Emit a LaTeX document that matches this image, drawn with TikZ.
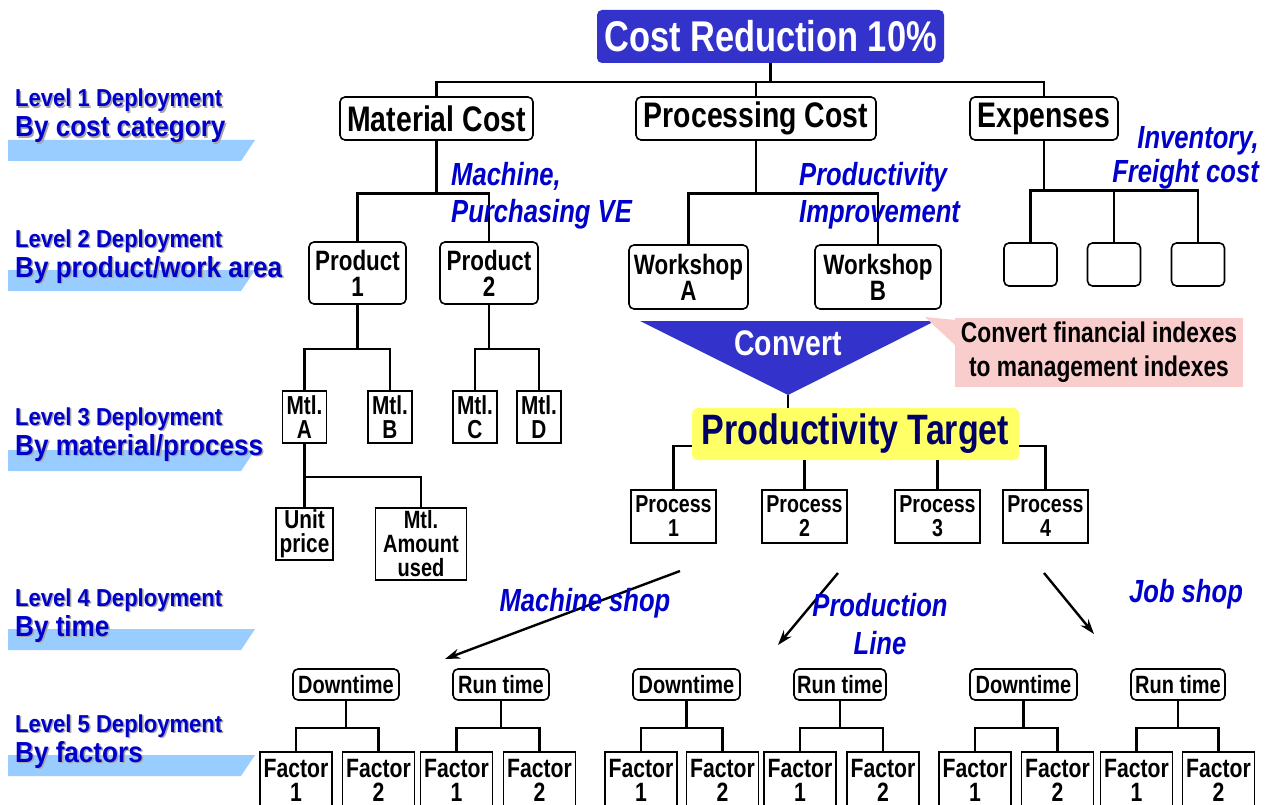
\documentclass[tikz,border=0pt]{standalone}
\usepackage{fontspec}
\setmainfont{Liberation Sans}
\newfontfamily\nf[FakeStretch=0.8]{Liberation Sans}
\newfontfamily\lf[FakeStretch=0.9]{Liberation Sans}
\usetikzlibrary{arrows.meta}
\definecolor{tblue}{RGB}{51,51,204}
\definecolor{lblue}{RGB}{0,0,204}
\definecolor{bandc}{RGB}{153,204,255}
\definecolor{pinkc}{RGB}{250,205,205}
\definecolor{ylw}{RGB}{255,255,102}
\definecolor{navyc}{RGB}{0,0,102}
\newcommand\fs[2]{\fontsize{#1}{#2}\selectfont}
\newcommand\lvlabel[5]{%
  \fill[bandc] (8,#4) -- (255,#4) -- (241,#4+21) -- (8,#4+21) -- cycle;
  \node[lvshadow, font=\lf\bfseries\fs{24.5}{25}] at (16.5,#2+1.5) {Level #1 Deployment};
  \node[lvtext, font=\lf\bfseries\fs{24.5}{25}] (lv#1a) at (15,#2) {Level #1 Deployment};
  \node[lvshadow, font=\lf\bfseries\fs{29}{29}] at (16.5,#3+1.5) {#5};
  \node[lvtext, font=\lf\bfseries\fs{29}{29}] (lv#1b) at (15,#3) {#5};
}
\begin{document}
\begin{tikzpicture}[x=1pt,y=-1pt,
  lvtext/.style={anchor=base west, inner sep=0pt, text=lblue},
  lvshadow/.style={anchor=base west, inner sep=0pt, text=black!35},
  rbox/.style={draw, line width=1.6pt, rounded corners=5pt, fill=white, inner sep=0pt, align=center},
  sbox/.style={draw, line width=1.6pt, fill=white, inner sep=0pt, align=center},
  titlebox/.style={fill=tblue, text=white, rounded corners=5pt, inner sep=0pt,
     minimum width=347pt, minimum height=53pt, font=\nf\bfseries\fs{43}{43}},
  l1box/.style={rbox, minimum height=43pt, font=\nf\bfseries\fs{35.5}{35}},
  l2box/.style={rbox, font=\nf\bfseries\fs{28}{26}},
  mbox/.style={sbox, minimum width=44pt, minimum height=52pt, font=\nf\bfseries\fs{26}{24}},
  ebox/.style={rbox, minimum width=53pt, minimum height=43pt},
  ptbox/.style={fill=ylw, text=navyc, rounded corners=6pt, inner sep=0pt,
     minimum width=327pt, minimum height=52pt, font=\nf\bfseries\fs{42.5}{42}},
  prbox/.style={sbox, minimum width=85pt, minimum height=53pt, font=\nf\bfseries\fs{24.5}{24}},
  tbox/.style={rbox, minimum height=31pt, font=\nf\bfseries\fs{25}{24}},
  fbox/.style={sbox, minimum width=72pt, minimum height=56pt, font=\nf\bfseries\fs{26.5}{24}},
  bl/.style={inner sep=0pt, text=lblue, font=\nf\bfseries\itshape\fs{32}{37}},
  conn/.style={line width=2.6pt},
  arr/.style={line width=2.4pt, -{Stealth[length=15pt,width=10pt]}}
]
\clip (0,0) rectangle (1271,805);
\fill[white] (0,0) rectangle (1271,805);

% left level labels
\lvlabel{1}{107}{137}{140}{By cost category}
\lvlabel{2}{247}{277}{270}{By product/work area}
\lvlabel{3}{425}{455}{450}{By material/process}
\lvlabel{4}{606}{636}{629}{By time}
\lvlabel{5}{732}{762}{755}{By factors}

% title
\node[titlebox] (title) at (770.5,36.5) {Cost Reduction 10\%};

% level 1
\node[l1box, minimum width=193pt] (mat) at (436.5,118.5) {Material Cost};
\node[l1box, minimum width=240pt] (proc) at (756,118.5) {Processing Cost};
\node[l1box, minimum width=148pt] (exp) at (1044,118.5) {Expenses};
\draw[conn] (title.south) -- ++(0,19) coordinate (jt);
\draw[conn] (mat.north) |- (jt) -| (exp.north);
\draw[conn] (proc.north) -- (proc.north |- jt);

% level 2
\node[l2box, minimum width=97pt, minimum height=62pt] (p1) at (357.5,273) {Product\\1};
\node[l2box, minimum width=98pt, minimum height=62pt] (p2) at (489,273) {Product\\2};
\node[l2box, minimum width=119pt, minimum height=64pt] (wa) at (688.5,277) {Workshop\\A};
\node[l2box, minimum width=126pt, minimum height=64pt] (wb) at (878,277) {Workshop\\B};
\node[ebox] (e1) at (1030.5,264.5) {};
\node[ebox] (e2) at (1114,264.5) {};
\node[ebox] (e3) at (1198,264.5) {};
\draw[conn] (mat.south) -- ++(0,53) coordinate (jm);
\draw[conn] (p1.north) |- (jm) -| (p2.north);
\draw[conn] (proc.south) -- ++(0,53) coordinate (jw);
\draw[conn] (wa.north) |- (jw) -| (wb.north);
\draw[conn] (exp.south) -- ++(0,50) coordinate (je);
\draw[conn] (e1.north) |- (je) -| (e3.north);
\draw[conn] (e2.north) -- (e2.north |- je);

\node[bl, anchor=west, align=left] (mpv) at (451,196) {Machine,\\Purchasing VE};
\node[bl, anchor=west, align=left] (piv) at (799,195.5) {Productivity\\Improvement};
\node[bl, anchor=east, align=right, font=\nf\bfseries\itshape\fs{32}{34}] (inv) at (1259,158) {Inventory,\\Freight cost};

% level 3 material
\node[mbox] (mA) at (304.5,417) {Mtl.\\A};
\node[mbox] (mB) at (390,417) {Mtl.\\B};
\node[mbox] (mC) at (475,417) {Mtl.\\C};
\node[mbox] (mD) at (539,417) {Mtl.\\D};
\draw[conn] (p1.south) -- ++(0,44) coordinate (jp1);
\draw[conn] (mA.north) |- (jp1) -| (mB.north);
\draw[conn] (p2.south) -- ++(0,44) coordinate (jp2);
\draw[conn] (mC.north) |- (jp2) -| (mD.north);
\node[sbox, minimum width=57pt, minimum height=52pt, font=\nf\bfseries\fs{26}{24}] (uP) at (304.5,534) {Unit\\price};
\node[sbox, minimum width=91pt, minimum height=72pt, font=\nf\bfseries\fs{25}{24}] (mAU) at (421,544) {Mtl.\\Amount\\used};
\draw[conn] (mA.south) -- (uP.north);
\path (mA.south) ++(0,33) coordinate (ja);
\draw[conn] (ja) -| (mAU.north);

% convert
\fill[tblue] (640,321) -- (935,321) -- (788,395) -- cycle;
\node[inner sep=0pt, text=white, font=\nf\bfseries\fs{35.5}{35}] (conv) at (788,343) {Convert};
\coordinate (ctip) at (788,395);
\fill[pinkc] (925,317) -- (956,320) -- (956,346) -- cycle;
\node[fill=pinkc, minimum width=288pt, minimum height=69pt, inner sep=0pt, align=center,
      font=\nf\bfseries\fs{28.5}{34}] (pink) at (1099,352.5) {Convert financial indexes\\to management indexes};

% productivity target
\node[ptbox] (pt) at (855.5,434) {Productivity Target};
\draw[conn] (ctip) -- (ctip |- pt.north);
\node[prbox] (pr1) at (673.5,516.5) {Process\\1};
\node[prbox] (pr2) at (804.5,516.5) {Process\\2};
\node[prbox] (pr3) at (937.5,516.5) {Process\\3};
\node[prbox] (pr4) at (1045.5,516.5) {Process\\4};
\draw[conn] (pr1.north) |- (pt.west |- 0,446);
\draw[conn] (pr4.north) |- (pt.east |- 0,446);
\draw[conn] (pr2.north) -- (pr2.north |- pt.south);
\draw[conn] (pr3.north) -- (pr3.north |- pt.south);

% arrows and labels
\coordinate (a1s) at (680,571); \coordinate (a1e) at (445,659);
\coordinate (a2s) at (838,573); \coordinate (a2e) at (778,645);
\coordinate (a3s) at (1044,573); \coordinate (a3e) at (1094,634);
\draw[arr] (a1s) -- (a1e);
\draw[arr] (a2s) -- (a2e);
\draw[arr] (a3s) -- (a3e);
\node[bl] (ms) at (585,603) {Machine shop};
\node[bl, align=center, font=\nf\bfseries\itshape\fs{32}{38}] (pl) at (880,624) {Production\\Line};
\node[bl] (js) at (1186,594) {Job shop};

% level 4 and 5
\foreach \n/\x/\w/\t/\fa/\fb in {d1/346/106/Downtime/296/378.5, r1/501/96/Run time/456.5/539.5,
   d2/686.5/107/Downtime/641/722.5, r2/840/92/Run time/800/883,
   d3/1023.5/107/Downtime/975/1057.5, r3/1178/94/Run time/1136.5/1218.5} {
  \node[tbox, minimum width=\w pt] (\n) at (\x,684.5) {\t};
  \node[fbox] (\n-f1) at (\fa,780) {Factor\\1};
  \node[fbox] (\n-f2) at (\fb,780) {Factor\\2};
  \draw[conn] (\n.south) -- ++(0,27) coordinate (\n-j);
  \draw[conn] (\n-f1.north) |- (\n-j) -| (\n-f2.north);
}
\end{tikzpicture}
\end{document}
